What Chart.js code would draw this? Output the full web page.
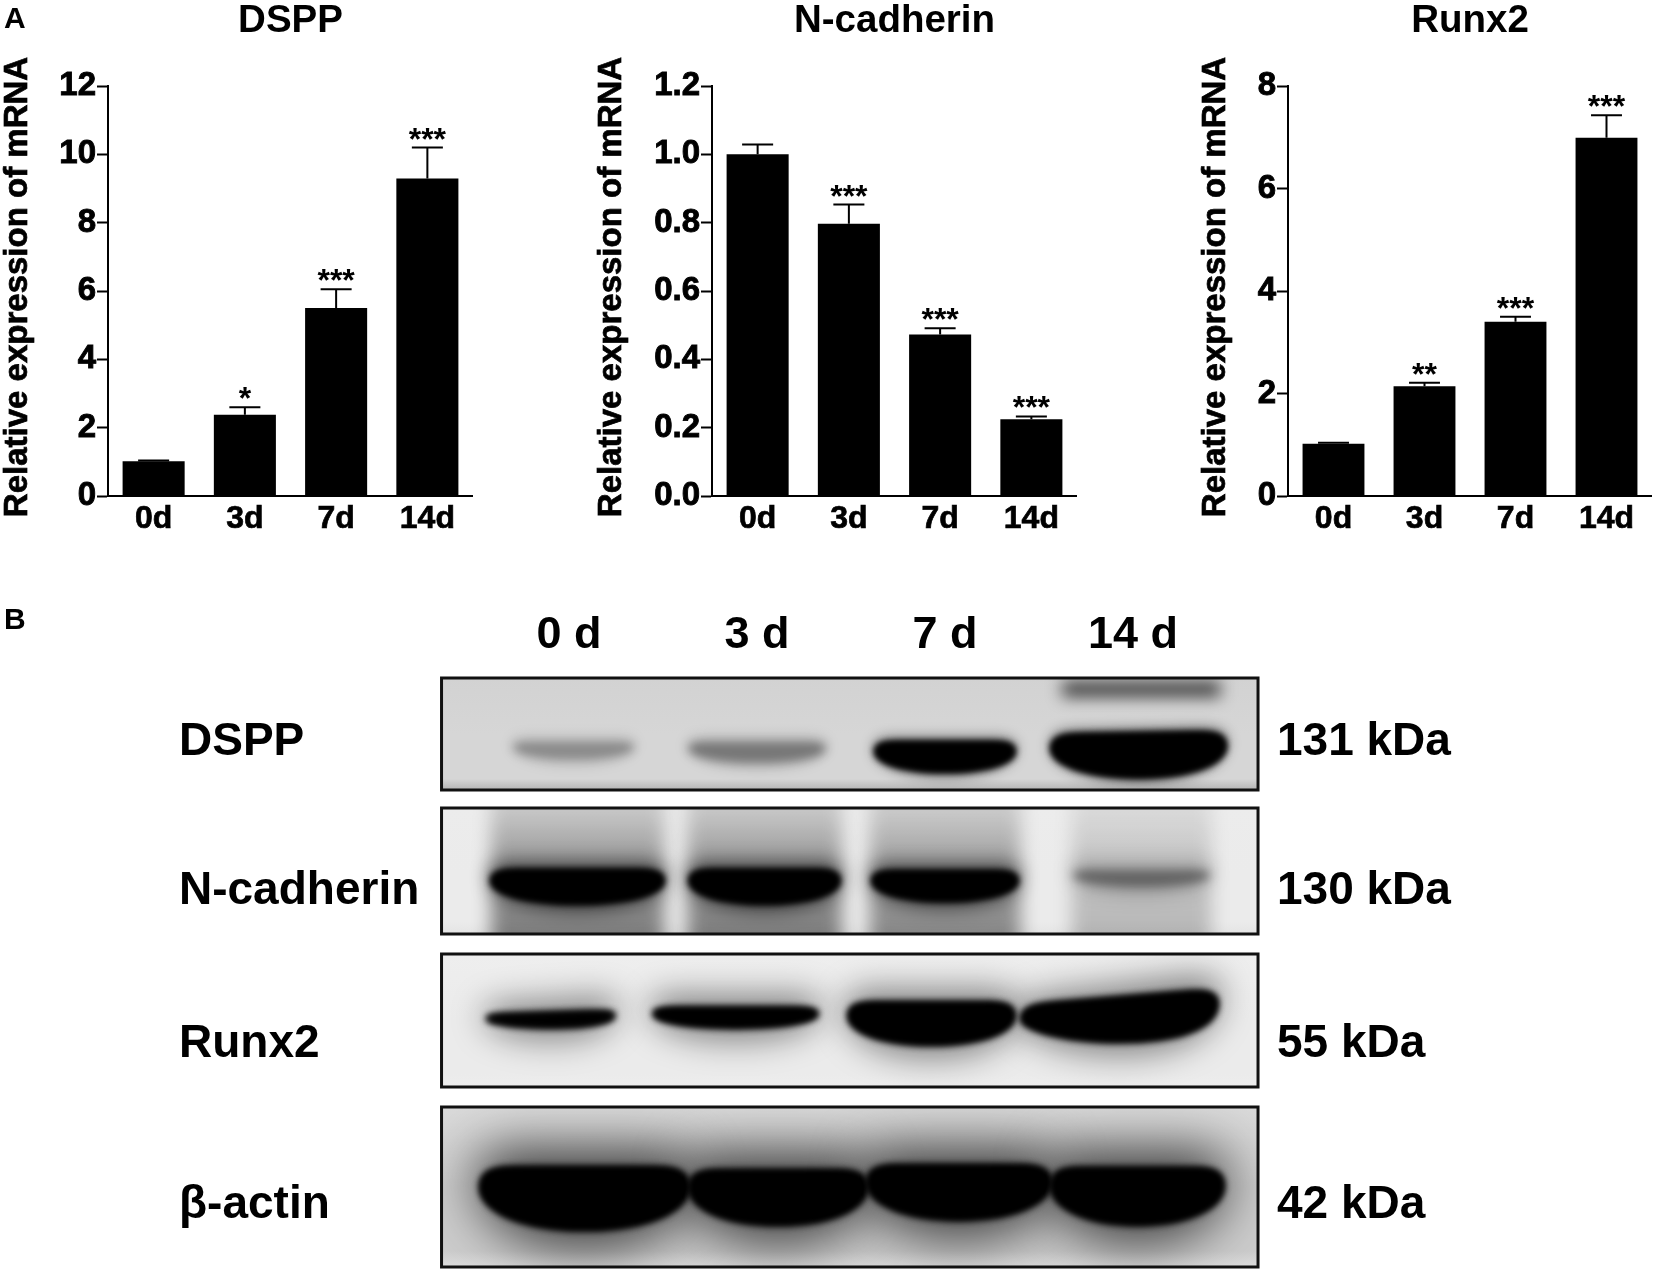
<!DOCTYPE html>
<html>
<head>
<meta charset="utf-8">
<title>DSPP, N-cadherin, Runx2</title>
<script src="https://cdn.jsdelivr.net/npm/chart.js@4"></script>
<style>
  html, body { margin: 0; background: #fff; }
  canvas { position: absolute; }
</style>
</head>
<body>
<canvas id="dsppChart" style="left:0;top:0" width="473" height="540"></canvas>
<canvas id="ncadChart" style="left:594px;top:0" width="483" height="540"></canvas>
<canvas id="runxChart" style="left:1198px;top:0" width="454" height="540"></canvas>
<canvas id="blotChart" style="left:0;top:560px" width="1655" height="711"></canvas>
<script>
const days = ['0d', '3d', '7d', '14d'];
const yAxisTitle = 'Relative expression of mRNA';

const dsppValues = [1.02, 2.38, 5.5, 9.29];
const dsppErrTop = [1.04, 2.6, 6.05, 10.2];
const dsppStars = ['', '*', '***', '***'];

const ncadValues = [1.0, 0.797, 0.473, 0.225];
const ncadErrTop = [1.029, 0.853, 0.491, 0.233];
const ncadStars = ['', '***', '***', '***'];

const runxValues = [1.02, 2.14, 3.4, 6.99];
const runxErrTop = [1.04, 2.21, 3.5, 7.43];
const runxStars = ['', '**', '***', '***'];

// western blot (panel B), band darkness 0-1
const blotLanes = ['0 d', '3 d', '7 d', '14 d'];
const proteins = ['DSPP', 'N-cadherin', 'Runx2', 'β-actin'];
const weights = ['131 kDa', '130 kDa', '55 kDa', '42 kDa'];
const dsppDensity = [0.28, 0.36, 1, 1];
const dsppUpperDensity = [0, 0, 0, 0.7];
const ncadDensity = [1, 1, 1, 0.36];
const ncadSmear = [0.42, 0.42, 0.38, 0.2];
const runxDensity = [0.95, 1, 1, 1];
const actinDensity = [1, 1, 1, 1];

// ---- Error bars and significance stars ----
const errorBarPlugin = {
  id: 'errorBars',
  afterDatasetsDraw(chart, args, opts) {
    const ctx = chart.ctx;
    const y = chart.scales.y;
    const bars = chart.getDatasetMeta(0).data;
    ctx.save();
    ctx.strokeStyle = '#000';
    ctx.fillStyle = '#000';
    ctx.lineWidth = 2;
    bars.forEach((bar, i) => {
      const top = y.getPixelForValue(opts.errTop[i]);
      ctx.beginPath();
      ctx.moveTo(bar.x, bar.y);
      ctx.lineTo(bar.x, top);
      ctx.moveTo(bar.x - bar.width / 4, top);
      ctx.lineTo(bar.x + bar.width / 4, top);
      ctx.stroke();
      if (opts.stars[i]) {
        ctx.font = 'bold 32px "Liberation Sans"';
        ctx.textAlign = 'center';
        ctx.textBaseline = 'alphabetic';
        ctx.fillText(opts.stars[i], bar.x, top + 2);
      }
    });
    ctx.restore();
  }
};

// y title sits a little above the axis middle in the figure, so it is drawn here
const yTitlePlugin = {
  id: 'yTitle',
  afterDraw(chart) {
    const ctx = chart.ctx;
    ctx.save();
    ctx.translate(18, (chart.chartArea.top + chart.chartArea.bottom) / 2 - 4);
    ctx.rotate(-Math.PI / 2);
    ctx.fillStyle = '#000';
    ctx.strokeStyle = '#000';
    ctx.lineWidth = 0.7;
    ctx.font = 'bold 33px "Liberation Sans"';
    ctx.textAlign = 'center';
    ctx.textBaseline = 'middle';
    ctx.fillText(yAxisTitle, 0, 0);
    ctx.strokeText(yAxisTitle, 0, 0);
    ctx.restore();
  }
};

const panelLetter = {
  id: 'panelLetter',
  afterDraw(chart, args, opts) {
    if (!opts.text) return;
    const ctx = chart.ctx;
    ctx.save();
    ctx.fillStyle = '#000';
    ctx.font = 'bold 30px "Liberation Sans"';
    ctx.textAlign = 'left';
    ctx.textBaseline = 'alphabetic';
    ctx.fillText(opts.text, opts.x, opts.y);
    ctx.restore();
  }
};

function makeBarChart(id, title, values, errTop, stars, yMax, yStep, yWidth, digits, letter) {
  return new Chart(document.getElementById(id), {
    type: 'bar',
    data: {
      labels: days,
      datasets: [{ data: values, backgroundColor: '#000', barPercentage: 0.68, categoryPercentage: 1 }]
    },
    options: {
      responsive: false,
      animation: false,
      layout: { padding: 0 },
      plugins: {
        legend: { display: false },
        tooltip: { enabled: false },
        title: {
          display: true,
          text: title,
          color: '#000',
          fullSize: false,
          font: { family: 'Liberation Sans', size: 38.5, weight: 'bold', lineHeight: 1 },
          padding: { top: 2, bottom: 45.5 }
        },
        errorBars: { errTop, stars },
        panelLetter: letter || {}
      },
      scales: {
        x: {
          afterFit(s) { s.height = 44; },
          grid: { display: false, drawTicks: false },
          border: { color: '#000', width: 2 },
          ticks: { color: '#000', padding: 4, textStrokeColor: '#000', textStrokeWidth: 0.7, font: { family: 'Liberation Sans', size: 32, weight: 'bold' }, maxRotation: 0 }
        },
        y: {
          min: 0,
          max: yMax,
          afterFit(s) { s.width = yWidth; },
          grid: { drawOnChartArea: false, tickLength: 11, tickWidth: 2, tickColor: '#000' },
          border: { color: '#000', width: 2 },
          ticks: {
            color: '#000',
            stepSize: yStep,
            padding: 1,
            textStrokeColor: '#000',
            textStrokeWidth: 0.9,
            font: { family: 'Liberation Sans', size: 33, weight: 'bold' },
            callback: v => v.toFixed(digits)
          }
        }
      }
    },
    plugins: [errorBarPlugin, yTitlePlugin, panelLetter]
  });
}

makeBarChart('dsppChart', 'DSPP', dsppValues, dsppErrTop, dsppStars, 12, 2, 108, 0, { text: 'A', x: 4, y: 28 });
makeBarChart('ncadChart', 'N-cadherin', ncadValues, ncadErrTop, ncadStars, 1.2, 0.2, 118, 1);
makeBarChart('runxChart', 'Runx2', runxValues, runxErrTop, runxStars, 8, 2, 90, 0);

// ---- Blot drawing ----
// membrane rows in y-scale units, shapes: lane offset, half width (in lane widths), top, bottom (fraction of row), tilt
const rowBounds = [[0, 112], [130, 256], [276, 409], [429, 589]];
const rowBackground = [
  ['#d2d2d2', '#d6d6d6', '#b4b4b4'],
  ['#ececec', '#ebebeb', '#e4e4e4'],
  ['#eeeeee', '#ebebeb', '#ededed'],
  ['#dadada', '#cccccc', '#dcdcdc']
];
const bandShapes = [
  [[0.024, 0.32, 0.57, 0.73, 0], [0, 0.364, 0.57, 0.76, 0], [0, 0.372, 0.57, 0.84, 0], [0.03, 0.465, 0.49, 0.89, 0.01]],
  [[0.045, 0.46, 0.49, 0.76, 0], [0.04, 0.4, 0.49, 0.76, 0], [0, 0.388, 0.5, 0.74, 0], [0.045, 0.365, 0.49, 0.63, 0]],
  [[-0.098, 0.343, 0.436, 0.556, 0.04], [-0.114, 0.44, 0.4, 0.556, 0], [-0.072, 0.444, 0.36, 0.684, 0], [-0.072, 0.524, 0.323, 0.662, 0.06]],
  [[0.082, 0.556, 0.375, 0.769, 0], [0.112, 0.473, 0.394, 0.7375, 0], [0.074, 0.489, 0.3625, 0.706, 0], [0.024, 0.46, 0.38, 0.7375, 0]]
];
const upperBandShape = [0.044, 0.42, 0.03, 0.17];
const smearShapes = [[0.045, 0.46], [0.04, 0.41], [0, 0.4], [0.045, 0.37]];
const membraneLeft = -0.678;
const membraneRight = 3.665;
const haloBlur = [6, 9, 16, 26];
const haloAlpha = [0.35, 0.5, 0.45, 0.7];

// flat top with rounded shoulders, rounded belly underneath
function bandPath(ctx, x0, x1, yt, yb, tilt) {
  const xc = (x0 + x1) / 2;
  const w = x1 - x0;
  const h = yb - yt;
  const t = tilt * h * 3;
  const ym = yt + 0.32 * h;
  ctx.beginPath();
  ctx.moveTo(x0, ym + t);
  ctx.bezierCurveTo(x0, yt + t, x0 + 0.1 * w, yt + t * 0.8, x0 + 0.2 * w, yt + t * 0.6);
  ctx.lineTo(x1 - 0.2 * w, yt - t * 0.6);
  ctx.bezierCurveTo(x1 - 0.1 * w, yt - t * 0.8, x1, yt - t, x1, ym - t);
  ctx.bezierCurveTo(x1, yt + 0.7 * h, xc + 0.3 * w, yb, xc, yb);
  ctx.bezierCurveTo(xc - 0.3 * w, yb, x0, yt + 0.7 * h, x0, ym + t);
  ctx.closePath();
}

const blotPlugin = {
  id: 'blot',
  beforeDatasetsDraw(chart) {
    const ctx = chart.ctx;
    const xs = chart.scales.x;
    const ys = chart.scales.y;
    const laneW = xs.getPixelForValue(1) - xs.getPixelForValue(0);
    const laneX = i => xs.getPixelForValue(i);
    const left = laneX(0) + membraneLeft * laneW;
    const right = laneX(0) + membraneRight * laneW;

    rowBounds.forEach((row, r) => {
      const top = ys.getPixelForValue(row[0]);
      const bottom = ys.getPixelForValue(row[1]);
      const h = bottom - top;
      ctx.save();
      ctx.beginPath();
      ctx.rect(left, top, right - left, h);
      ctx.clip();

      const bg = ctx.createLinearGradient(0, top, 0, bottom);
      bg.addColorStop(0, rowBackground[r][0]);
      bg.addColorStop(0.5, rowBackground[r][1]);
      bg.addColorStop(0.9, rowBackground[r][1]);
      bg.addColorStop(1, rowBackground[r][2]);
      ctx.fillStyle = bg;
      ctx.fillRect(left, top, right - left, h);

      // N-cadherin lanes carry a grey smear top to bottom
      if (r === 1) {
        ctx.filter = 'blur(9px)';
        ncadSmear.forEach((d, i) => {
          const sx = laneX(i) + smearShapes[i][0] * laneW;
          const sw = smearShapes[i][1] * laneW;
          const g = ctx.createLinearGradient(0, top, 0, bottom);
          g.addColorStop(0, `rgba(0,0,0,${d * 0.35})`);
          g.addColorStop(0.4, `rgba(0,0,0,${d * 0.8})`);
          g.addColorStop(0.8, `rgba(0,0,0,${d})`);
          g.addColorStop(1, `rgba(0,0,0,${d * 1.1})`);
          ctx.fillStyle = g;
          ctx.fillRect(sx - sw, top - 20, sw * 2, h + 40);
        });
      }
      // DSPP has a faint second band above 14 d
      if (r === 0) {
        ctx.filter = 'blur(8px)';
        dsppUpperDensity.forEach((d, i) => {
          if (!d) return;
          const cx = laneX(i) + upperBandShape[0] * laneW;
          const hw = upperBandShape[1] * laneW;
          ctx.fillStyle = `rgba(0,0,0,${d})`;
          ctx.fillRect(cx - hw, top + upperBandShape[2] * h, hw * 2, (upperBandShape[3] - upperBandShape[2]) * h);
        });
      }

      const density = chart.data.datasets[r].data;
      density.forEach((d, i) => {
        const s = bandShapes[r][i];
        const cx = laneX(i) + s[0] * laneW;
        const hw = s[1] * laneW;
        const yt = top + s[2] * h;
        const yb = top + s[3] * h;
        // soft halo, then the dark core
        ctx.filter = `blur(${haloBlur[r]}px)`;
        ctx.fillStyle = `rgba(0,0,0,${haloAlpha[r] * d})`;
        bandPath(ctx, cx - hw - 3, cx + hw + 3, yt - haloBlur[r] * 0.6 - 3, yb + haloBlur[r] * 0.6 + 3, s[4]);
        ctx.fill();
        ctx.filter = d < 0.6 ? 'blur(5px)' : 'blur(3.5px)';
        ctx.fillStyle = `rgba(0,0,0,${d})`;
        bandPath(ctx, cx - hw, cx + hw, yt, yb, s[4]);
        ctx.fill();
        if (d >= 0.6) ctx.fill();
      });
      ctx.restore();

      ctx.save();
      ctx.strokeStyle = '#111';
      ctx.lineWidth = 3;
      ctx.strokeRect(left, top, right - left, h);
      ctx.restore();
    });
  },
  afterDraw(chart, args, opts) {
    const ctx = chart.ctx;
    ctx.save();
    ctx.fillStyle = '#000';
    ctx.font = 'bold 46px "Liberation Sans"';
    ctx.textBaseline = 'alphabetic';
    ctx.textAlign = 'left';
    proteins.forEach((p, i) => ctx.fillText(p, 179, opts.labelY[i]));
    weights.forEach((w, i) => ctx.fillText(w, 1277, opts.labelY[i]));
    ctx.restore();
  }
};

new Chart(document.getElementById('blotChart'), {
  type: 'bar',
  data: {
    labels: blotLanes,
    datasets: [
      { label: proteins[0], data: dsppDensity, backgroundColor: 'transparent', yAxisID: 'density' },
      { label: proteins[1], data: ncadDensity, backgroundColor: 'transparent', yAxisID: 'density' },
      { label: proteins[2], data: runxDensity, backgroundColor: 'transparent', yAxisID: 'density' },
      { label: proteins[3], data: actinDensity, backgroundColor: 'transparent', yAxisID: 'density' }
    ]
  },
  options: {
    responsive: false,
    animation: false,
    layout: { padding: { left: 475, right: 428, bottom: 4, top: 0 } },
    plugins: {
      legend: { display: false },
      tooltip: { enabled: false },
      blot: { labelY: [195, 344, 497, 658] },
      panelLetter: { text: 'B', x: 4, y: 69 }
    },
    scales: {
      x: {
        position: 'top',
        afterFit(s) { s.height = 118; },
        grid: { display: false, drawTicks: false },
        border: { display: false },
        ticks: { color: '#000', padding: 15, maxRotation: 0, font: { family: 'Liberation Sans', size: 45, weight: 'bold' } }
      },
      y: { reverse: true, min: 0, max: 589, display: false },
      density: { min: 0, max: 1, display: false }
    }
  },
  plugins: [blotPlugin, panelLetter]
});
</script>
</body>
</html>
